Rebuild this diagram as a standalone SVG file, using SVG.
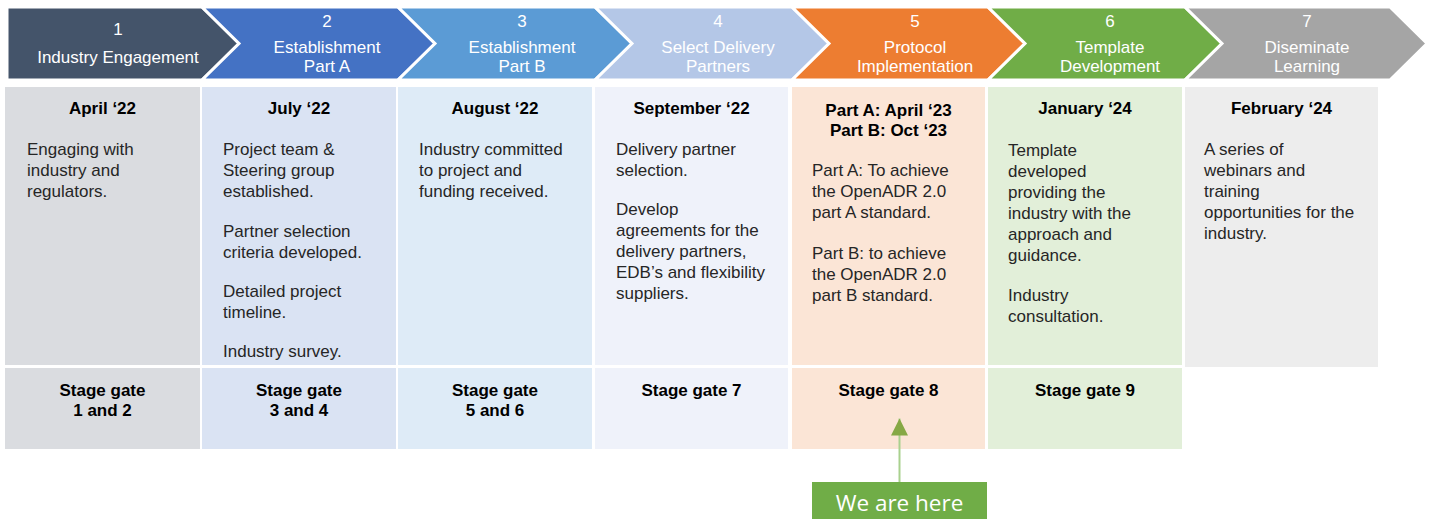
<svg xmlns="http://www.w3.org/2000/svg" width="1432" height="519" viewBox="0 0 1432 519">
<style>
  .chev { stroke: #FFFFFF; stroke-width: 3; stroke-linejoin: miter; }
  .ct { font-family: "Liberation Sans", Arial, sans-serif; font-size: 17px; fill: #FFFFFF; text-anchor: middle; }
  .hd { font-family: "Liberation Sans", Arial, sans-serif; font-size: 17px; font-weight: bold; fill: #000000; text-anchor: middle; }
  .bd { font-family: "Liberation Sans", Arial, sans-serif; font-size: 17px; fill: #262626; }
  .here { font-family: "Open Sans", "Noto Sans", sans-serif; font-size: 22.5px; fill: #FFFFFF; text-anchor: middle; }
</style>
<defs>
  <marker id="arrowUp" viewBox="0 0 10 10" refX="10" refY="5" markerWidth="17" markerHeight="17" markerUnits="userSpaceOnUse" orient="auto">
    <path d="M0,0 L10,5 L0,10 Z" fill="#86A845"/>
  </marker>
</defs>
<rect x="0" y="0" width="1432" height="519" fill="#FFFFFF"/>

<g id="stage1">
  <polygon class="chev" fill="#44546A" points="7,7 202,7 239,43.5 202,80 7,80"/>
  <text class="ct" x="118" y="35">1</text>
  <text class="ct" x="118" y="63">Industry Engagement</text>
</g>
<g id="stage2">
  <polygon class="chev" fill="#4472C4" points="202,7 398,7 435,43.5 398,80 202,80 239,43.5"/>
  <text class="ct" x="327" y="27">2</text>
  <text class="ct" x="327" y="53">Establishment</text>
  <text class="ct" x="327" y="72">Part A</text>
</g>
<g id="stage3">
  <polygon class="chev" fill="#5B9BD5" points="398,7 595,7 632,43.5 595,80 398,80 435,43.5"/>
  <text class="ct" x="522" y="27">3</text>
  <text class="ct" x="522" y="53">Establishment</text>
  <text class="ct" x="522" y="72">Part B</text>
</g>
<g id="stage4">
  <polygon class="chev" fill="#B4C7E7" points="595,7 792,7 829,43.5 792,80 595,80 632,43.5"/>
  <text class="ct" x="718" y="27">4</text>
  <text class="ct" x="718" y="53">Select Delivery</text>
  <text class="ct" x="718" y="72">Partners</text>
</g>
<g id="stage5">
  <polygon class="chev" fill="#ED7D31" points="792,7 988,7 1025,43.5 988,80 792,80 829,43.5"/>
  <text class="ct" x="915" y="27">5</text>
  <text class="ct" x="915" y="53">Protocol</text>
  <text class="ct" x="915" y="72">Implementation</text>
</g>
<g id="stage6">
  <polygon class="chev" fill="#70AD47" points="988,7 1185,7 1222,43.5 1185,80 988,80 1025,43.5"/>
  <text class="ct" x="1110" y="27">6</text>
  <text class="ct" x="1110" y="53">Template</text>
  <text class="ct" x="1110" y="72">Development</text>
</g>
<g id="stage7">
  <polygon class="chev" fill="#A5A5A5" points="1185,7 1390,7 1427,43.5 1390,80 1185,80 1222,43.5"/>
  <text class="ct" x="1307" y="27">7</text>
  <text class="ct" x="1307" y="53">Diseminate</text>
  <text class="ct" x="1307" y="72">Learning</text>
</g>

<g id="col1">
  <rect x="5" y="87" width="195" height="278" fill="#DADCE0"/>
  <rect x="5" y="368" width="195" height="81" fill="#DADCE0"/>
  <text class="hd" x="102.5" y="114">April ‘22</text>
  <text class="bd" x="27" y="154.5">Engaging with</text>
  <text class="bd" x="27" y="175.5">industry and</text>
  <text class="bd" x="27" y="196.5">regulators.</text>
  <text class="hd" x="102.5" y="395.5">Stage gate</text>
  <text class="hd" x="102.5" y="415.5">1 and 2</text>
</g>
<g id="col2">
  <rect x="202" y="87" width="194" height="278" fill="#DAE3F3"/>
  <rect x="202" y="368" width="194" height="81" fill="#DAE3F3"/>
  <text class="hd" x="299" y="114">July ‘22</text>
  <text class="bd" x="223" y="154.5">Project team &amp;</text>
  <text class="bd" x="223" y="175.5">Steering group</text>
  <text class="bd" x="223" y="196.5">established.</text>
  <text class="bd" x="223" y="236.5">Partner selection</text>
  <text class="bd" x="223" y="257.5">criteria developed.</text>
  <text class="bd" x="223" y="296.5">Detailed project</text>
  <text class="bd" x="223" y="317.5">timeline.</text>
  <text class="bd" x="223" y="357">Industry survey.</text>
  <text class="hd" x="299" y="395.5">Stage gate</text>
  <text class="hd" x="299" y="415.5">3 and 4</text>
</g>
<g id="col3">
  <rect x="398" y="87" width="194" height="278" fill="#DEEBF7"/>
  <rect x="398" y="368" width="194" height="81" fill="#DEEBF7"/>
  <text class="hd" x="495" y="114">August ‘22</text>
  <text class="bd" x="419" y="154.5">Industry committed</text>
  <text class="bd" x="419" y="175.5">to project and</text>
  <text class="bd" x="419" y="196.5">funding received.</text>
  <text class="hd" x="495" y="395.5">Stage gate</text>
  <text class="hd" x="495" y="415.5">5 and 6</text>
</g>
<g id="col4">
  <rect x="595" y="87" width="193" height="278" fill="#EFF2FA"/>
  <rect x="595" y="368" width="193" height="81" fill="#EFF2FA"/>
  <text class="hd" x="691.5" y="114">September ‘22</text>
  <text class="bd" x="616" y="154.5">Delivery partner</text>
  <text class="bd" x="616" y="175.5">selection.</text>
  <text class="bd" x="616" y="214.5">Develop</text>
  <text class="bd" x="616" y="235.5">agreements for the</text>
  <text class="bd" x="616" y="256.5">delivery partners,</text>
  <text class="bd" x="616" y="277.5">EDB’s and flexibility</text>
  <text class="bd" x="616" y="298.5">suppliers.</text>
  <text class="hd" x="691.5" y="395.5">Stage gate 7</text>
</g>
<g id="col5">
  <rect x="792" y="87" width="193" height="278" fill="#FBE5D6"/>
  <rect x="792" y="368" width="193" height="81" fill="#FBE5D6"/>
  <text class="hd" x="888.5" y="115.5">Part A: April ‘23</text>
  <text class="hd" x="888.5" y="135.5">Part B: Oct ‘23</text>
  <text class="bd" x="812" y="175.5">Part A: To achieve</text>
  <text class="bd" x="812" y="196.5">the OpenADR 2.0</text>
  <text class="bd" x="812" y="217.5">part A standard.</text>
  <text class="bd" x="812" y="259">Part B: to achieve</text>
  <text class="bd" x="812" y="280">the OpenADR 2.0</text>
  <text class="bd" x="812" y="301">part B standard.</text>
  <text class="hd" x="888.5" y="395.5">Stage gate 8</text>
</g>
<g id="col6">
  <rect x="988" y="87" width="194" height="278" fill="#E2EFD9"/>
  <rect x="988" y="368" width="194" height="81" fill="#E2EFD9"/>
  <text class="hd" x="1085" y="114">January ‘24</text>
  <text class="bd" x="1008" y="155.5">Template</text>
  <text class="bd" x="1008" y="176.5">developed</text>
  <text class="bd" x="1008" y="197.5">providing the</text>
  <text class="bd" x="1008" y="218.5">industry with the</text>
  <text class="bd" x="1008" y="239.5">approach and</text>
  <text class="bd" x="1008" y="260.5">guidance.</text>
  <text class="bd" x="1008" y="300.5">Industry</text>
  <text class="bd" x="1008" y="321.5">consultation.</text>
  <text class="hd" x="1085" y="395.5">Stage gate 9</text>
</g>
<g id="col7">
  <rect x="1185" y="87" width="193" height="280" fill="#EDEDED"/>
  <text class="hd" x="1281.5" y="114">February ‘24</text>
  <text class="bd" x="1204" y="155">A series of</text>
  <text class="bd" x="1204" y="176">webinars and</text>
  <text class="bd" x="1204" y="197">training</text>
  <text class="bd" x="1204" y="218">opportunities for the</text>
  <text class="bd" x="1204" y="239">industry.</text>
</g>

<g id="connectors">
  <line x1="899.5" y1="482" x2="899.5" y2="418.5" stroke="#A9D18E" stroke-width="2" marker-end="url(#arrowUp)"/>
</g>
<g id="we-are-here">
  <rect x="812" y="482" width="175" height="37" fill="#70AD47"/>
  <text class="here" x="899.5" y="510.5">We are here</text>
</g>
</svg>
